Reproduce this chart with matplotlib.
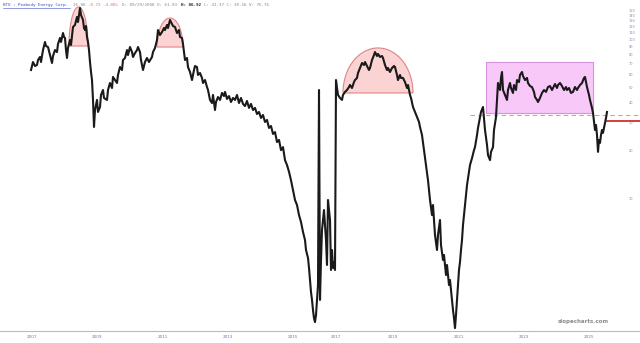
import matplotlib
matplotlib.use("Agg")
import matplotlib.pyplot as plt
from matplotlib.patches import Polygon, Rectangle
from matplotlib.lines import Line2D
import numpy as np

# weekly bar number and close price (log scale)
bar = [31, 33, 35, 37, 38, 40, 41, 43, 45, 46, 48, 50, 52, 53, 55, 57, 58, 60, 61, 63,
       64, 65, 66, 67, 68, 70, 71, 73, 75, 77, 78, 80, 81, 83, 84, 85, 86, 87, 88, 89,
       90, 91, 92, 93, 94, 95, 97, 98, 100, 101, 103, 104, 107, 108, 110, 112, 113, 115, 117, 118,
       120, 122, 123, 125, 127, 128, 130, 132, 133, 135, 137, 138, 140, 141, 143, 145, 147, 149, 152, 153,
       155, 157, 158, 160, 162, 164, 165, 167, 168, 170, 172, 173, 175, 177, 179, 180, 182, 183, 184, 185,
       187, 188, 190, 192, 194, 195, 197, 198, 200, 202, 203, 205, 207, 208, 210, 212, 213, 215, 216, 218,
       220, 222, 224, 225, 227, 229, 231, 233, 235, 237, 239, 241, 243, 245, 247, 249, 251, 253, 255, 257,
       259, 261, 263, 265, 267, 269, 271, 273, 275, 277, 279, 281, 283, 285, 287, 289, 291, 293, 295, 297,
       299, 301, 303, 305, 306, 308, 309, 310, 311, 312, 313, 314, 315, 316, 317, 318, 319, 320, 321, 322,
       324, 326, 327, 328, 330, 331, 332, 333, 334, 335, 336, 337, 338, 340, 342, 343, 345, 347, 349, 350,
       352, 354, 355, 357, 358, 360, 362, 364, 365, 367, 369, 370, 372, 374, 375, 377, 378, 380, 382, 383,
       385, 387, 388, 390, 392, 394, 395, 397, 398, 400, 401, 403, 405, 407, 408, 410, 411, 413, 415, 417,
       419, 420, 422, 424, 426, 428, 430, 432, 433, 435, 437, 438, 440, 441, 443, 444, 446, 447, 449, 450,
       452, 453, 454, 455, 456, 457, 458, 459, 460, 461, 462, 463, 464, 465, 466, 467, 468, 469, 470, 472,
       474, 475, 477, 478, 480, 481, 483, 484, 485, 487, 488, 490, 491, 493, 494, 496, 497, 498, 500, 501,
       502, 503, 505, 507, 508, 510, 511, 513, 514, 516, 517, 519, 520, 522, 523, 525, 527, 528, 530, 532,
       534, 535, 537, 538, 540, 542, 544, 546, 548, 550, 552, 553, 555, 557, 558, 560, 562, 564, 566, 567,
       569, 571, 573, 575, 577, 578, 580, 582, 584, 585, 586, 587, 589, 590, 592, 593, 595, 596, 597, 598,
       599, 600, 601, 602, 603, 604, 605, 606, 607]

close = [64.0, 71.8, 67.8, 68.8, 73.9, 77.2, 71.8, 85.3, 95.8, 90.4, 89.1, 79.4, 70.8, 78.3, 85.3, 82.9, 93.0, 101.5, 95.8, 109.0,
         102.9, 101.5, 85.3, 76.1, 87.9, 98.6, 91.7, 118.9, 122.4, 137.3, 127.7, 156.2, 141.3, 131.5, 117.2, 113.8, 120.6, 102.9, 95.8, 85.3,
         71.8, 62.2, 55.4, 41.6, 28.2, 36.0, 41.6, 35.0, 37.6, 44.7, 48.0, 42.8, 41.6, 48.0, 53.1, 49.4, 57.9, 55.4, 53.1, 59.6,
         66.8, 64.0, 73.9, 76.1, 85.3, 79.4, 89.1, 82.9, 77.2, 81.7, 85.3, 89.1, 82.9, 73.9, 64.0, 71.8, 76.1, 71.8, 77.2, 82.9,
         87.9, 98.6, 113.8, 105.9, 110.6, 117.2, 113.8, 122.4, 117.2, 131.5, 124.1, 120.6, 118.9, 109.0, 113.8, 102.9, 101.5, 93.0, 82.9, 73.9,
         76.1, 66.8, 62.2, 55.4, 64.0, 67.8, 66.8, 59.6, 61.3, 57.1, 53.1, 55.4, 50.1, 48.0, 41.6, 39.8, 44.7, 36.0, 40.4, 43.4,
         41.6, 46.0, 44.0, 46.7, 42.2, 44.0, 40.4, 42.8, 41.6, 44.7, 39.8, 42.8, 39.3, 38.1, 41.0, 37.1, 39.3, 36.0, 37.1, 34.0,
         35.0, 32.1, 33.5, 30.3, 31.2, 27.8, 28.6, 25.5, 26.2, 22.7, 23.4, 20.2, 21.1, 17.5, 16.3, 14.8, 13.1, 11.4, 9.86, 9.17,
         7.94, 7.18, 6.22, 5.54, 4.80, 4.28, 3.71, 3.12, 2.62, 2.34, 2.02, 1.80, 1.70, 1.88, 2.34, 2.90, 48.0, 2.34, 4.16, 6.40,
         8.53, 5.54, 3.87, 9.86, 7.39, 3.60, 4.80, 3.71, 4.04, 3.60, 55.4, 49.4, 44.7, 42.8, 41.6, 44.7, 46.7, 48.0, 50.1, 51.6,
         49.4, 53.8, 55.4, 57.1, 61.3, 65.9, 70.8, 68.8, 71.8, 67.8, 64.0, 65.9, 73.9, 79.4, 82.9, 78.3, 80.6, 77.2, 78.3, 76.1,
         68.8, 64.0, 65.9, 62.2, 65.9, 67.8, 66.8, 59.6, 55.4, 59.6, 57.1, 57.1, 53.8, 49.4, 51.6, 44.7, 42.8, 37.6, 35.0, 32.5,
         30.3, 28.2, 25.1, 20.2, 16.3, 13.1, 9.86, 7.94, 9.17, 5.96, 4.80, 5.96, 7.39, 5.16, 4.16, 4.47, 3.35, 3.87, 2.90, 3.12,
         2.34, 2.02, 1.80, 1.56, 1.88, 2.34, 2.90, 3.60, 4.04, 4.80, 5.54, 6.88, 7.94, 9.17, 10.6, 12.2, 13.5, 14.8, 16.3, 18.0,
         20.2, 21.1, 25.1, 27.8, 32.5, 35.0, 37.6, 32.1, 27.0, 21.8, 18.8, 17.5, 19.7, 21.1, 27.0, 32.5, 41.6, 53.1, 48.0, 57.1,
         62.2, 48.0, 44.7, 41.6, 48.0, 53.1, 49.4, 46.0, 51.6, 48.0, 55.4, 53.8, 59.6, 62.2, 58.7, 55.4, 57.1, 53.1, 50.8, 50.1,
         46.7, 43.4, 41.6, 40.4, 42.8, 46.0, 48.0, 46.7, 50.1, 50.8, 48.0, 49.4, 52.3, 49.4, 51.6, 53.1, 50.8, 48.0, 50.1, 48.0,
         49.4, 46.0, 46.7, 50.1, 48.0, 49.4, 51.6, 53.1, 57.1, 57.9, 53.8, 50.1, 44.7, 41.6, 37.1, 34.5, 27.0, 29.0, 25.1, 19.7,
         23.4, 22.4, 25.1, 27.0, 25.9, 27.8, 29.9, 32.1, 35.0]

# year labels on the bottom axis
year_bars = [32, 97, 163, 228, 293, 336, 393, 459, 524, 589]
year_labels = ["2007", "2009", "2011", "2013", "2015", "2017", "2019", "2021", "2023", "2025"]

# price ticks on the right
price_ticks = [10, 20, 30, 40, 50, 60, 70, 80, 90, 100, 110, 120, 130, 140, 150]

# drawn annotations: (start bar, end bar, base price, top price)
arcs = [(69, 88, 90.4, 158.5), (157, 183, 89.1, 135.3), (343, 413, 46.0, 87.9)]
box = (486, 593, 34.5, 71.8)
dashed_level = 33.5
red_level = 30.7

fig = plt.figure(figsize=(6.4, 3.43), dpi=100)
ax = fig.add_axes([0, 12 / 343, 1, 331 / 343])
ax.set_yscale("log")
ax.set_xlim(0, 640)
ax.set_ylim(1.496, 175.3)

# half-ellipse tops
for x0, x1, base, top in arcs:
    t = np.linspace(0, np.pi, 80)
    xc = (x0 + x1) / 2
    xs = xc + (x1 - x0) / 2 * np.cos(t)
    ys = 10 ** (np.log10(base) + (np.log10(top) - np.log10(base)) * np.sin(t))
    ax.add_patch(Polygon(np.column_stack([xs, ys]), closed=True,
                         facecolor="#fbd3d3", edgecolor="#e08585", lw=0.8, zorder=1))

# range box
ax.add_patch(Rectangle((box[0], box[2]), box[1] - box[0], box[3] - box[2],
                       facecolor="#f8c8f8", edgecolor="#d890e0", lw=0.8, zorder=1))

ax.plot([470, 640], [dashed_level, dashed_level], color="#e39898", lw=0.8,
        ls=(0, (4, 3)), zorder=2)
ax.plot([607, 640], [red_level, red_level], color="#cc3333", lw=1.3, zorder=2)

ax.plot(bar, close, color="#1a1a1a", lw=1.5, zorder=3)

for s in ["top", "left", "right"]:
    ax.spines[s].set_visible(False)
ax.spines["bottom"].set_color("#bbbbbb")
ax.spines["bottom"].set_linewidth(0.8)

ax.set_xticks(year_bars)
ax.set_xticklabels(year_labels)
ax.tick_params(axis="x", length=0, labelsize=3, colors="#7777aa", pad=3)

ax.yaxis.tick_right()
ax.set_yticks(price_ticks)
ax.set_yticklabels([str(p) for p in price_ticks])
ax.yaxis.set_minor_locator(matplotlib.ticker.NullLocator())
ax.tick_params(axis="y", length=0, labelsize=2.5, colors="#8888aa", pad=-8)

ax.text(609, 1.72, "slopecharts.com", ha="right", va="center", fontsize=4.0,
        color="#8a8a8a", fontweight="bold")

# header line
W, H = 640, 343
cw = 2.58
parts = [("BTU : Peabody Energy Corp.", "#3a4fc4", "normal"),
         (" ", "#888888", "normal"),
         ("16.96 ", "#888888", "normal"),
         ("-0.72 -4.08% ", "#e07070", "normal"),
         ("D: 09/29/2008 O: 61.03 ", "#888888", "normal"),
         ("H: 86.92 ", "#222222", "bold"),
         ("L: 41.37 C: 30.16 V: 76.76", "#888888", "normal")]
px = 3
for txt, col, wt in parts:
    fig.text(px / W, 1 - 5 / H, txt, fontsize=3.1, family="DejaVu Sans Mono",
             color=col, fontweight=wt, va="center", ha="left")
    px += len(txt) * cw
fig.add_artist(Line2D([3 / W, (3 + 26 * cw) / W], [1 - 7.5 / H, 1 - 7.5 / H],
                      color="#3a4fc4", lw=0.4))

fig.savefig("out.png", dpi=100)
